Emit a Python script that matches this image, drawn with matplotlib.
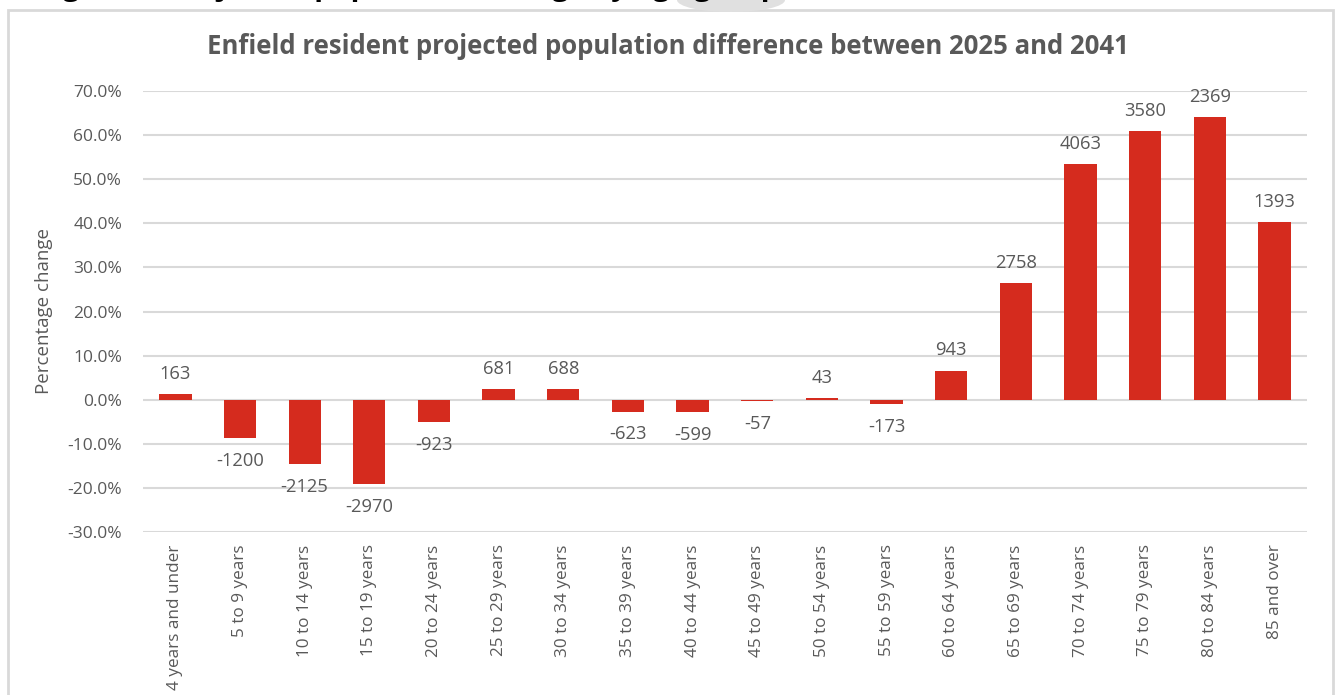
import matplotlib
matplotlib.use("Agg")
import matplotlib.pyplot as plt
from matplotlib.patches import Rectangle, Ellipse
from matplotlib.ticker import FuncFormatter, MultipleLocator

# Age bands and projected change (percent) with absolute difference in residents
age_groups = [
    "4 years and under", "5 to 9 years", "10 to 14 years", "15 to 19 years",
    "20 to 24 years", "25 to 29 years", "30 to 34 years", "35 to 39 years",
    "40 to 44 years", "45 to 49 years", "50 to 54 years", "55 to 59 years",
    "60 to 64 years", "65 to 69 years", "70 to 74 years", "75 to 79 years",
    "80 to 84 years", "85 and over",
]
pct_change = [1.2, -8.7, -14.6, -19.1, -5.0, 2.5, 2.5, -2.7, -2.9,
              -0.4, 0.3, -0.9, 6.6, 26.5, 53.4, 61.0, 64.0, 40.3]
abs_change = [163, -1200, -2125, -2970, -923, 681, 688, -623, -599,
              -57, 43, -173, 943, 2758, 4063, 3580, 2369, 1393]

title = "Enfield resident projected population difference between 2025 and 2041"
y_label = "Percentage change"
caption = "Figure 3: Projected population change by age group (2025 to 2041)"

BAR = "#d52b1e"
TEXT = "#595959"
GRID = "#d9d9d9"
FONT = "Open Sans"

plt.rcParams["font.family"] = [FONT, "DejaVu Sans"]

fig = plt.figure(figsize=(13.36, 6.95), dpi=100)
W, H = 1336, 695

# Chart frame
fig.patches.append(Rectangle((8 / W, -0.05), (1333 - 8) / W, 1 - 10 / H + 0.05,
                             transform=fig.transFigure, facecolor="white",
                             edgecolor=GRID, linewidth=2, zorder=1))

# Document caption above the chart frame (runs off the top edge)
fig.text(38 / W, 1 + 5 / H, caption, fontsize=21, fontweight="bold",
         color="black", ha="left", va="baseline", zorder=4)
fig.patches.append(Ellipse((731 / W, 1.0), 108 / W, 24 / H,
                           transform=fig.transFigure, facecolor="#e0e0e0",
                           edgecolor="none", zorder=3))

ax = fig.add_axes([143 / W, 1 - 532 / H, (1307 - 143) / W, (532 - 91) / H])
ax.set_zorder(5)
ax.patch.set_alpha(0)

x = list(range(len(age_groups)))
ax.bar(x, pct_change, width=0.5, color=BAR, zorder=3)

ax.set_xlim(-0.5, len(age_groups) - 0.5)
ax.set_ylim(-30, 70)
ax.yaxis.set_major_locator(MultipleLocator(10))
ax.yaxis.set_major_formatter(FuncFormatter(lambda v, p: f"{v:.1f}%"))
ax.grid(axis="y", color=GRID, linewidth=1.5, zorder=0)
ax.set_axisbelow(True)
for s in ax.spines.values():
    s.set_visible(False)

ax.set_xticks(x)
ax.set_xticklabels(age_groups, rotation=90, fontsize=12.3, color=TEXT)
ax.tick_params(axis="x", length=0, pad=9)
ax.tick_params(axis="y", length=0, pad=15, labelsize=12.5, labelcolor=TEXT)

ax.set_ylabel(y_label, fontsize=13.5, color=TEXT)
ax.yaxis.set_label_coords((53 - 143) / (1307 - 143), 0.5)

for xi, v, n in zip(x, pct_change, abs_change):
    if v >= 0:
        ax.annotate(str(n), (xi, v), xytext=(0, 8), textcoords="offset points",
                    ha="center", va="bottom", fontsize=13.2, color=TEXT)
    else:
        ax.annotate(str(n), (xi, v), xytext=(0, -10), textcoords="offset points",
                    ha="center", va="top", fontsize=13.2, color=TEXT)

fig.text(668 / W, 1 - 47 / H, title, fontsize=18.5, fontweight="bold",
         color=TEXT, ha="center", va="center", zorder=6)

fig.savefig("out.png", dpi=100)
